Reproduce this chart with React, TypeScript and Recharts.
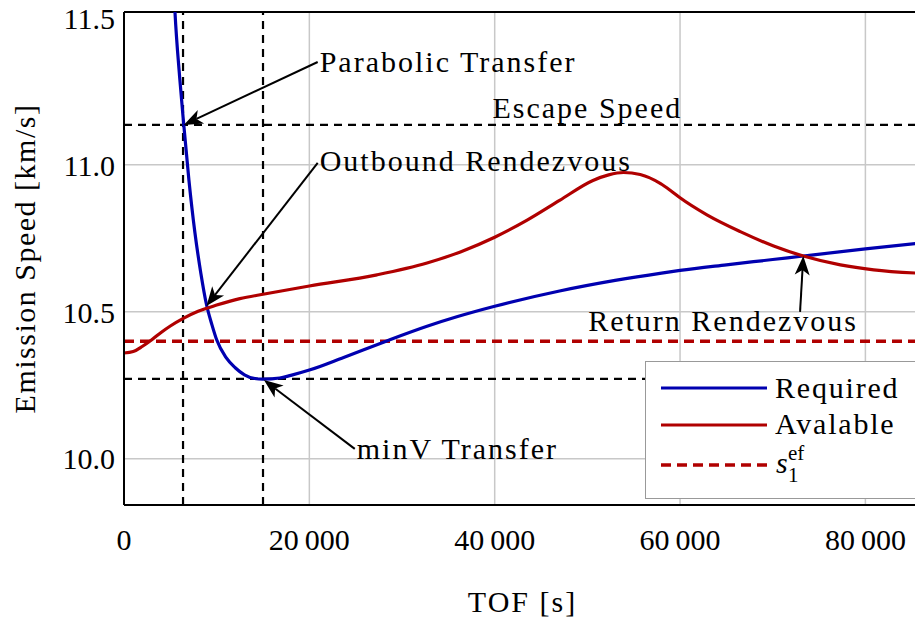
import {
    LineChart,
    Line,
    XAxis,
    YAxis,
    CartesianGrid,
    ReferenceLine,
} from "recharts";

const FONT = "Liberation Serif";
const BLUE = "#0000b0";
const RED = "#b00000";

// Required emission speed (blue)
const requiredTof = [
    5000, 5500, 6000, 6450, 7000, 7650, 8300, 8900, 9500, 10000, 11000, 12000,
    13000, 14000, 15000, 16800, 18000, 20000, 23700, 28000, 32700, 36000,
    40000, 47000, 53000, 58000, 60000, 65000, 70000, 73300, 80000, 86000,
];
const requiredSpeed = [
    11.9, 11.52, 11.3, 11.136, 10.95, 10.77, 10.63, 10.525, 10.455, 10.405,
    10.345, 10.31, 10.286, 10.274, 10.271, 10.275, 10.284, 10.302, 10.345,
    10.397, 10.451, 10.484, 10.519, 10.571, 10.607, 10.632, 10.641, 10.66,
    10.678, 10.69, 10.714, 10.734,
];

// Available emission speed (red)
const availableTof = [
    0, 1000, 2000, 3000, 4000, 5000, 6400, 8000, 10000, 12500, 15000, 20000,
    27300, 32700, 36300, 40000, 43500, 47000, 50600, 52300, 53900, 55700,
    57900, 59000, 60000, 62900, 66500, 70100, 73300, 77300, 80900, 86000,
];
const availableSpeed = [
    10.36, 10.365, 10.383, 10.405, 10.43, 10.452, 10.478, 10.502, 10.523,
    10.545, 10.56, 10.588, 10.626, 10.666, 10.704, 10.754, 10.812, 10.879,
    10.947, 10.966, 10.974, 10.967, 10.936, 10.912, 10.888, 10.83, 10.773,
    10.724, 10.69, 10.66, 10.643, 10.631,
];

const xTicks = [0, 20000, 40000, 60000, 80000];
const yTicks = [10, 10.5, 11, 11.5];
const xGrid = [20000, 40000, 60000, 80000];
const yGrid = [10, 10.5, 11];
const xDomain = [0, 86000];
const yDomain = [9.843, 11.52];

const escapeSpeed = 11.136;
const minSpeed = 10.272;
const sEf = 10.4;
const parabolicTof = 6370;
const minVTof = 15000;

type Ann = {
    text: string;
    from: [number, number];
    to: [number, number];
    dx: number;
    dy: number;
    anchor: "start" | "middle" | "end";
    arrow: boolean;
};

const annotations: Ann[] = [
    { text: "Parabolic Transfer", from: [20900, 11.35], to: [6450, 11.136], dx: 2, dy: 10, anchor: "start", arrow: true },
    { text: "Outbound Rendezvous", from: [20900, 11.007], to: [8900, 10.52], dx: 2, dy: 8, anchor: "start", arrow: true },
    { text: "minV Transfer", from: [24900, 10.034], to: [15100, 10.268], dx: 2, dy: 10, anchor: "start", arrow: true },
    { text: "Return Rendezvous", from: [72950, 10.5], to: [73300, 10.69], dx: -77, dy: 19, anchor: "middle", arrow: true },
    { text: "Escape Speed", from: [50000, 11.136], to: [50000, 11.136], dx: 0, dy: -7, anchor: "middle", arrow: false },
];

const requiredData = requiredTof.map((tof, i) => ({ tof, speed: requiredSpeed[i] }));
const availableData = availableTof.map((tof, i) => ({ tof, speed: availableSpeed[i] }));

const fmtX = (v: number) =>
    v >= 10000 ? `${Math.floor(v / 1000)}\u2009${String(v % 1000).padStart(3, "0")}` : String(v);

function AnnotationShape(props: any) {
    const { x1, y1, x2, y2, ann } = props;
    const a: Ann = ann;
    let arrow = null;
    if (a.arrow) {
        const ang = Math.atan2(y2 - y1, x2 - x1);
        const c = Math.cos(ang);
        const s = Math.sin(ang);
        const L = 19;
        const W = 7.5;
        const notch = 5;
        const bx = x2 - L * c;
        const by = y2 - L * s;
        const nx = x2 - (L - notch) * c;
        const ny = y2 - (L - notch) * s;
        const pts = [
            [x2, y2],
            [bx - W * s, by + W * c],
            [nx, ny],
            [bx + W * s, by - W * c],
        ]
            .map((p) => p.join(","))
            .join(" ");
        arrow = (
            <g>
                <line x1={x1} y1={y1} x2={nx} y2={ny} stroke="#000" strokeWidth={2} />
                <polygon points={pts} fill="#000" />
            </g>
        );
    }
    return (
        <g>
            {arrow}
            <text
                x={x1 + a.dx}
                y={y1 + a.dy}
                textAnchor={a.anchor}
                fontFamily={FONT}
                fontSize={30}
                letterSpacing={2}
                fill="#000"
            >
                {a.text}
            </text>
        </g>
    );
}

function Legend() {
    return (
        <svg
            width={915}
            height={620}
            style={{ position: "absolute", left: 0, top: 0, pointerEvents: "none" }}
        >
            <rect x={645.5} y={361.5} width={300} height={137} fill="#fff" stroke="#999" strokeWidth={1} />
            <line x1={661} y1={388} x2={767} y2={388} stroke={BLUE} strokeWidth={3} />
            <text x={775} y={398} fontFamily={FONT} fontSize={30} letterSpacing={1.8}>
                Required
            </text>
            <line x1={661} y1={425} x2={767} y2={425} stroke={RED} strokeWidth={3} />
            <text x={775} y={434} fontFamily={FONT} fontSize={30} letterSpacing={1.8}>
                Avalable
            </text>
            <line x1={661} y1={465} x2={767} y2={465} stroke={RED} strokeWidth={3.5} strokeDasharray="10 6" />
            <text x={776} y={473} fontFamily={FONT} fontSize={30} fontStyle="italic">
                s
            </text>
            <text x={788} y={460} fontFamily={FONT} fontSize={21}>
                ef
            </text>
            <text x={788} y={482} fontFamily={FONT} fontSize={21}>
                1
            </text>
        </svg>
    );
}

export default function App() {
    return (
        <div
            style={{
                position: "fixed",
                left: 0,
                top: 0,
                width: 915,
                height: 620,
                overflow: "hidden",
                background: "#fff",
            }}
        >
            <LineChart
                width={940}
                height={620}
                margin={{ top: 12, right: 19, left: 0, bottom: 0 }}
            >
                <CartesianGrid
                    stroke="#c8c8c8"
                    strokeWidth={1.5}
                    horizontalValues={yGrid}
                    verticalValues={xGrid}
                />
                <XAxis
                    type="number"
                    dataKey="tof"
                    domain={xDomain}
                    allowDataOverflow
                    ticks={xTicks}
                    tickFormatter={fmtX}
                    tickLine={false}
                    tickSize={6}
                    tickMargin={18}
                    height={115}
                    axisLine={{ stroke: "#000", strokeWidth: 2 }}
                    tick={{ fill: "#000", fontSize: 30, fontFamily: FONT }}
                    label={{
                        value: "TOF [s]",
                        position: "insideBottom",
                        offset: 8,
                        fill: "#000",
                        fontSize: 30,
                        fontFamily: FONT,
                        letterSpacing: 2,
                    }}
                />
                <YAxis
                    type="number"
                    domain={yDomain}
                    allowDataOverflow
                    ticks={yTicks}
                    tickFormatter={(v: number) => v.toFixed(1)}
                    tickLine={false}
                    tickSize={6}
                    tickMargin={3}
                    width={124}
                    axisLine={{ stroke: "#000", strokeWidth: 2 }}
                    tick={{ fill: "#000", fontSize: 30, fontFamily: FONT }}
                    label={{
                        content: ({ viewBox }: any) => {
                            const cy = viewBox.y + viewBox.height / 2;
                            return (
                                <text
                                    x={35}
                                    y={cy}
                                    transform={`rotate(-90, 35, ${cy})`}
                                    textAnchor="middle"
                                    fontFamily={FONT}
                                    fontSize={30}
                                    letterSpacing={1.5}
                                    fill="#000"
                                >
                                    Emission Speed [km/s]
                                </text>
                            );
                        },
                    }}
                />
                <ReferenceLine y={yDomain[1]} stroke="#000" strokeWidth={2} />
                <ReferenceLine y={escapeSpeed} stroke="#000" strokeWidth={2.2} strokeDasharray="8 6" />
                <ReferenceLine y={minSpeed} stroke="#000" strokeWidth={2.2} strokeDasharray="8 6" />
                <ReferenceLine x={parabolicTof} stroke="#000" strokeWidth={2.2} strokeDasharray="8 6" />
                <ReferenceLine x={minVTof} stroke="#000" strokeWidth={2.2} strokeDasharray="8 6" />
                <ReferenceLine y={sEf} stroke={RED} strokeWidth={3.5} strokeDasharray="10 6" />
                <Line
                    data={requiredData}
                    dataKey="speed"
                    type="monotone"
                    stroke={BLUE}
                    strokeWidth={3.2}
                    dot={false}
                    isAnimationActive={false}
                />
                <Line
                    data={availableData}
                    dataKey="speed"
                    type="monotone"
                    stroke={RED}
                    strokeWidth={3.2}
                    dot={false}
                    isAnimationActive={false}
                />
                {annotations.map((a) => (
                    <ReferenceLine
                        key={a.text}
                        segment={[
                            { x: a.from[0], y: a.from[1] },
                            { x: a.to[0], y: a.to[1] },
                        ]}
                        ifOverflow="visible"
                        shape={(p: any) => <AnnotationShape {...p} ann={a} />}
                    />
                ))}
            </LineChart>
            <Legend />
        </div>
    );
}
